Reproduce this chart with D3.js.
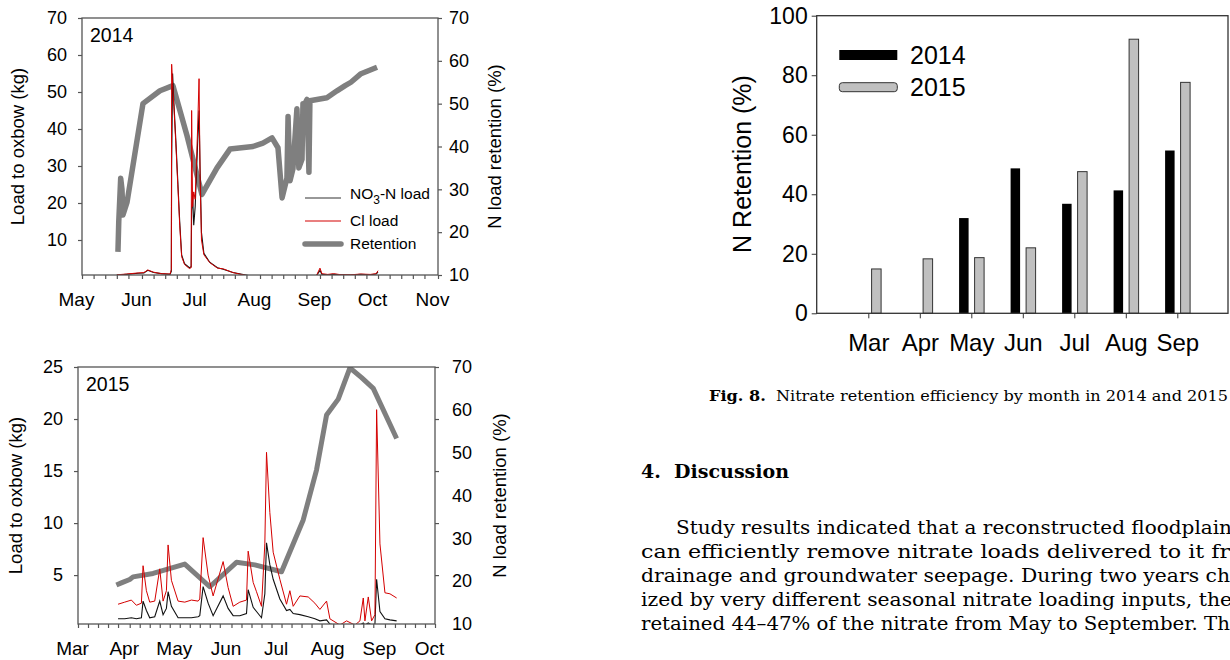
<!DOCTYPE html>
<html>
<head>
<meta charset="utf-8">
<script src="https://cdn.jsdelivr.net/npm/d3@7"></script>
<style>
  body { margin: 0; background: #fff; }
  svg { display: block; font-family: Arial, "Liberation Sans", sans-serif; }
  .body-text { font-family: "DejaVu Serif", "Liberation Serif", serif; }
</style>
</head>
<body>
<svg id="fig" width="1230" height="660"></svg>
<script>
// ---- 2014 daily loads (kg) ----
const loadDates14 = ["2014-05-19","2014-05-24","2014-05-30","2014-06-02","2014-06-04","2014-06-07","2014-06-11",
  "2014-06-15 12:00","2014-06-16 04:00","2014-06-16 08:00","2014-06-16 20:00","2014-06-17 12:00","2014-06-18 12:00",
  "2014-06-19 12:00","2014-06-20 12:00","2014-06-21 12:00","2014-06-23 00:00","2014-06-25 12:00","2014-06-26 10:00",
  "2014-06-26 16:00","2014-06-27 04:00","2014-06-27 18:00","2014-06-28 12:00","2014-06-29 18:00","2014-06-30 12:00",
  "2014-07-01 00:00","2014-07-01 18:00","2014-07-03 00:00","2014-07-06","2014-07-10","2014-07-13","2014-07-18",
  "2014-07-24","2014-07-28","2014-08-30","2014-09-01","2014-09-02","2014-09-05","2014-09-08","2014-09-12",
  "2014-09-17","2014-09-22","2014-09-27","2014-09-30","2014-10-01"]
const no3Load14 = [0.5,0.7,1.0,1.1,1.8,1.2,0.9, 0.7,1.5,30,55,47,37, 26,15,6,3.6,2.5,2.8,
  18,22,14,19,36,45, 30,12,6.4,4.0,2.5,2.1,1.2, 0.6,0.2,0.2,1.8,0.7,0.6,0.7,0.6, 0.5,0.7,0.6,0.8,1.3]
const clLoad14 = [0.6,0.8,1.1,1.2,1.9,1.3,0.9, 0.8,2.0,57.5,52,46,36, 25,14,5.5,3.4,2.3,2.5,
  45,19,23,21,40,53.6, 28,10,6.0,3.9,2.4,2.2,1.2, 0.5,0.2,0.2,2.4,0.9,0.7,0.9,0.6, 0.6,0.8,0.7,0.9,1.7]

// ---- 2014 N load retention (%) ----
const retDates14 = ["2014-05-19 14:00","2014-05-20 00:00","2014-05-21 00:00","2014-05-21 16:00","2014-05-22 04:00",
  "2014-05-24 07:00","2014-06-01 12:00","2014-06-10 07:00","2014-06-17 00:00","2014-06-24 07:00","2014-07-02 00:00",
  "2014-07-09 19:00","2014-07-16 12:00","2014-07-28 09:00","2014-08-02 12:00","2014-08-07 05:00","2014-08-10 07:00",
  "2014-08-12 10:00","2014-08-14 22:00","2014-08-15 12:00","2014-08-16 12:00","2014-08-18 00:00","2014-08-20 02:00",
  "2014-08-21 02:00","2014-08-22 17:00","2014-08-23 05:00","2014-08-24 05:00","2014-08-25 07:00","2014-08-26 07:00",
  "2014-08-26 19:00","2014-09-04 14:00","2014-09-09 19:00","2014-09-14 00:00","2014-09-17 00:00","2014-09-22 05:00",
  "2014-09-30 12:00"]
const retention14 = [15.4,22.5,32.6,30,24, 27,50,53,54.2,42.5,28.8, 35,39.4,40,40.8,42,39.7,
  28,32.6,47,32,34.7,48.8, 35,37,50,50,51,34, 50.7,51.4,53,54.2,55,57, 58.5]

// ---- 2015 daily loads (kg) ----
const loadDates15 = ["2015-03-25","2015-03-29","2015-04-02","2015-04-05","2015-04-08","2015-04-09","2015-04-11",
  "2015-04-13","2015-04-16","2015-04-19","2015-04-21","2015-04-23","2015-04-24","2015-04-26","2015-04-30",
  "2015-05-04","2015-05-08","2015-05-12","2015-05-13","2015-05-15","2015-05-18","2015-05-21","2015-05-27",
  "2015-05-30","2015-06-02","2015-06-06","2015-06-10","2015-06-11","2015-06-14","2015-06-16","2015-06-19",
  "2015-06-21","2015-06-22","2015-06-24","2015-06-26","2015-06-30","2015-07-04","2015-07-06","2015-07-08",
  "2015-07-12","2015-07-17","2015-07-21","2015-07-24","2015-07-28","2015-07-30","2015-08-05","2015-08-09",
  "2015-08-14","2015-08-17","2015-08-19","2015-08-20","2015-08-22","2015-08-24","2015-08-26","2015-08-27",
  "2015-08-29","2015-09-01","2015-09-04","2015-09-08"]
const no3Load15 = [0.8,0.8,0.9,0.8,0.9,2.5,1.6, 0.9,1.0,2.5,1.2,1.8,3.4,2.0,0.9,
  0.9,0.9,1.0,1.1,3.9,2.3,1.1,3.0, 1.8,1.1,1.1,1.3,3.6,1.9,1.5,0.9,
  3.2,8.1,6.0,4.6,2.7,1.6,1.7,1.3, 1.2,1.0,0.8,0.6,0.7,0.3,0.1,0.2,
  0.1,0.2,0.4,0.2,0.4,0.2,0.3,4.6, 1.5,0.8,0.7,0.6]
const clLoad15 = [2.2,2.4,2.6,2.1,2.3,5.9,3.5, 2.4,2.5,5.6,2.5,3.5,7.9,4.5,2.5,
  2.4,2.6,2.5,2.7,8.6,5.0,3.0,6.3, 3.8,2.0,2.4,2.6,7.3,4.3,3.4,2.0,
  8.0,16.8,11,7.2,4.6,2.2,3.5,2.0, 3.0,2.9,2.3,1.7,2.5,0.8,0.2,0.6,
  0.2,0.6,2.8,0.6,2.9,0.6,1.2,20.9, 8,3.3,3.2,2.8]

// ---- 2015 N load retention (%) ----
const retDates15 = ["2015-03-24","2015-03-27","2015-04-01","2015-04-03","2015-04-15","2015-05-04","2015-05-19",
  "2015-06-04","2015-06-15","2015-07-01","2015-07-14","2015-07-22","2015-07-28","2015-08-04","2015-08-11",
  "2015-08-18","2015-08-25","2015-09-08"]
const retention15 = [19.1,19.6,20.4,21.0,21.8,24.0,18.7, 24.4,23.8,22.2,34.3,46.0,58.8,62.5,69.8, 67.5,65.0,53.3]

// ---- Fig. 8: monthly retention efficiency (%) ----
const months = ["Mar","Apr","May","Jun","Jul","Aug","Sep"]
const eff2014 = [null,null,32,48.7,36.8,41.3,54.7]
const eff2015 = [14.9,18.3,18.7,22,47.6,92.1,77.6]

const parseDay = d3.timeParse("%Y-%m-%d")
const parseHour = d3.timeParse("%Y-%m-%d %H:%M")
function toDate(s){ return s.length > 10 ? parseHour(s) : parseDay(s) }

const svg = d3.select("#fig")
svg.append("rect").attr("width", 1230).attr("height", 660).attr("fill", "#fff")

const axisGray = "#555"

function drawLoadPanel(p){
    const g = svg.append("g")
    const x = d3.scaleTime().domain(p.xDomain.map(toDate)).range([p.left, p.right])
    const yL = d3.scaleLinear().domain(p.leftDomain).range([p.bottom, p.top])
    const yR = d3.scaleLinear().domain([10, 70]).range([p.bottom, p.top])

    const clipId = "clip" + p.year
    svg.append("clipPath").attr("id", clipId).append("rect")
        .attr("x", p.left).attr("y", p.top)
        .attr("width", p.right - p.left).attr("height", p.bottom - p.top)

    const plot = g.append("g").attr("clip-path", `url(#${clipId})`)

    const ret = p.retDates.map((d, i) => ({date: toDate(d), v: p.retention[i]}))
    plot.append("path").datum(ret)
        .attr("d", d3.line().x(d => x(d.date)).y(d => yR(d.v)))
        .attr("fill", "none").attr("stroke", "#7f7f7f")
        .attr("stroke-width", p.retWidth).attr("stroke-linejoin", "round")

    const loadLine = d3.line().x(d => x(d.date)).y(d => yL(d.v))
    const no3 = p.loadDates.map((d, i) => ({date: toDate(d), v: p.no3[i]}))
    const cl = p.loadDates.map((d, i) => ({date: toDate(d), v: p.cl[i]}))
    plot.append("path").datum(no3).attr("d", loadLine)
        .attr("fill", "none").attr("stroke", "#111").attr("stroke-width", 1.1)
    plot.append("path").datum(cl).attr("d", loadLine)
        .attr("fill", "none").attr("stroke", "#d40000").attr("stroke-width", 1)

    // frame
    g.append("rect").attr("x", p.left).attr("y", p.top)
        .attr("width", p.right - p.left).attr("height", p.bottom - p.top)
        .attr("fill", "none").attr("stroke", axisGray).attr("stroke-width", 1.3)

    // x axis: months + minor ticks
    const xa = g.append("g").attr("transform", `translate(0,${p.bottom})`)
        .call(d3.axisBottom(x).ticks(d3.timeMonth.every(1)).tickFormat(d3.timeFormat("%b"))
            .tickSize(4).tickSizeOuter(0).tickPadding(14))
    const [x0, x1] = x.domain()
    const minor = d3.timeDay.range(x0, x1).filter(d => [7, 13, 19, 25].includes(d.getDate()))
    g.append("g").attr("transform", `translate(0,${p.bottom})`)
        .call(d3.axisBottom(x).tickValues(minor).tickFormat("").tickSize(4).tickSizeOuter(0))
    xa.selectAll("text").attr("x", -6).style("font-size", "19px")

    // left axis
    const ya = g.append("g").attr("transform", `translate(${p.left},0)`)
        .call(d3.axisLeft(yL).tickValues(p.leftTicks).tickSize(4).tickSizeOuter(0).tickPadding(11))
    ya.selectAll("text").style("font-size", "18px")

    // right axis
    let rt
    if (p.rightTicksFromLeft){
        g.append("g").attr("transform", `translate(${p.right},0)`)
            .call(d3.axisRight(yL).tickValues(p.leftTicks).tickFormat("").tickSize(4).tickSizeOuter(0))
        rt = g.append("g").attr("transform", `translate(${p.right},0)`)
            .call(d3.axisRight(yR).tickValues([10, 20, 30, 40, 50, 60, 70]).tickSize(0).tickPadding(p.rightPad))
        rt.selectAll(".tick line").remove()
    } else {
        rt = g.append("g").attr("transform", `translate(${p.right},0)`)
            .call(d3.axisRight(yR).tickValues([10, 20, 30, 40, 50, 60, 70]).tickSize(4).tickSizeOuter(0).tickPadding(p.rightPad - 4))
    }
    rt.selectAll("text").style("font-size", "18px")

    g.selectAll(".domain").remove()
    g.selectAll(".tick line").attr("stroke", axisGray).attr("stroke-width", 1.2)
    g.selectAll(".tick text").attr("fill", "#000").attr("font-family", "Arial, 'Liberation Sans', sans-serif")

    // year tag
    g.append("text").attr("x", p.left + 8).attr("y", p.top + 24)
        .style("font-size", "19.5px").text(p.year)

    // axis titles
    const midY = (p.top + p.bottom) / 2
    g.append("text").attr("transform", `translate(${p.leftTitleX},${midY}) rotate(-90)`)
        .attr("text-anchor", "middle").attr("dy", "0.35em").style("font-size", "18.5px")
        .text("Load to oxbow (kg)")
    g.append("text").attr("transform", `translate(${p.rightTitleX},${midY}) rotate(-90)`)
        .attr("text-anchor", "middle").attr("dy", "0.35em").style("font-size", "18.5px")
        .text("N load retention (%)")

    if (p.legend){
        const items = [
            {label: "NO3", stroke: "#333", w: 1.2, y: 198},
            {label: "Cl load", stroke: "#d40000", w: 1.2, y: 221},
            {label: "Retention", stroke: "#7f7f7f", w: 5.5, y: 244}
        ]
        items.forEach(it => {
            g.append("line").attr("x1", 305).attr("x2", 341).attr("y1", it.y).attr("y2", it.y)
                .attr("stroke", it.stroke).attr("stroke-width", it.w).attr("stroke-linecap", it.w > 2 ? "round" : "butt")
            const t = g.append("text").attr("x", 350).attr("y", it.y).attr("dy", "0.35em").style("font-size", "15.5px")
            if (it.label === "NO3"){
                t.attr("y", it.y - 4)
                t.append("tspan").text("NO")
                t.append("tspan").attr("dy", 5).style("font-size", "12px").text("3")
                t.append("tspan").attr("dy", -5).text("-N load")
            } else {
                t.text(it.label)
            }
        })
    }
}

drawLoadPanel({
    year: "2014", left: 82, right: 438, top: 18, bottom: 275,
    xDomain: ["2014-05-01", "2014-11-01"],
    leftDomain: [0.54, 70], leftTicks: [10, 20, 30, 40, 50, 60, 70],
    rightTicksFromLeft: false, rightPad: 11,
    loadDates: loadDates14, no3: no3Load14, cl: clLoad14,
    retDates: retDates14, retention: retention14, retWidth: 5.5,
    leftTitleX: 18, rightTitleX: 495, legend: true
})

drawLoadPanel({
    year: "2015", left: 78, right: 435, top: 367, bottom: 624,
    xDomain: ["2015-03-01", "2015-10-01"],
    leftDomain: [0.3, 25], leftTicks: [5, 10, 15, 20, 25],
    rightTicksFromLeft: true, rightPad: 17,
    loadDates: loadDates15, no3: no3Load15, cl: clLoad15,
    retDates: retDates15, retention: retention15, retWidth: 5,
    leftTitleX: 16, rightTitleX: 500, legend: false
})

// ---- bar chart ----
const bar = {left: 816.7, right: 1228, top: 15.7, bottom: 313.3}
const bg = svg.append("g")
const xb = d3.scalePoint().domain(months).range([868.3, 1177.3])
const yb = d3.scaleLinear().domain([0, 100]).range([bar.bottom, bar.top])
const barW = 9.5

bg.selectAll("rect.b14").data(months.map((m, i) => ({m, v: eff2014[i]})).filter(d => d.v !== null))
    .join("rect").attr("class", "b14")
    .attr("x", d => xb(d.m) - 2.7 - barW).attr("width", barW)
    .attr("y", d => yb(d.v)).attr("height", d => yb(0) - yb(d.v))
    .attr("fill", "#000")
bg.selectAll("rect.b15").data(months.map((m, i) => ({m, v: eff2015[i]})))
    .join("rect").attr("class", "b15")
    .attr("x", d => xb(d.m) + 3.3).attr("width", barW)
    .attr("y", d => yb(d.v)).attr("height", d => yb(0) - yb(d.v))
    .attr("fill", "#c0c0c0").attr("stroke", "#333").attr("stroke-width", 1)

bg.append("rect").attr("x", bar.left).attr("y", bar.top)
    .attr("width", bar.right - bar.left).attr("height", bar.bottom - bar.top)
    .attr("fill", "none").attr("stroke", "#333").attr("stroke-width", 1.3)

const bxa = bg.append("g").attr("transform", `translate(0,${bar.bottom})`)
    .call(d3.axisBottom(xb).tickSize(5).tickSizeOuter(0).tickPadding(16))
bxa.selectAll("text").style("font-size", "24px")
const bya = bg.append("g").attr("transform", `translate(${bar.left},0)`)
    .call(d3.axisLeft(yb).tickValues([0, 20, 40, 60, 80, 100]).tickSize(5).tickSizeOuter(0).tickPadding(4))
bya.selectAll("text").style("font-size", "23px")
bg.selectAll(".domain").remove()
bg.selectAll(".tick line").attr("stroke", "#333")
bg.selectAll(".tick text").attr("fill", "#000").attr("font-family", "Arial, 'Liberation Sans', sans-serif")

bg.append("text").attr("transform", `translate(742,164) rotate(-90)`)
    .attr("text-anchor", "middle").attr("dy", "0.35em").style("font-size", "25px")
    .text("N Retention (%)")

bg.append("rect").attr("x", 839.3).attr("y", 50).attr("width", 58).attr("height", 10).attr("fill", "#000")
bg.append("rect").attr("x", 839.3).attr("y", 82.7).attr("width", 58).attr("height", 9).attr("rx", 3)
    .attr("fill", "#c0c0c0").attr("stroke", "#333")
bg.append("text").attr("x", 910).attr("y", 55).attr("dy", "0.35em").style("font-size", "25px").text("2014")
bg.append("text").attr("x", 910).attr("y", 87).attr("dy", "0.35em").style("font-size", "25px").text("2015")

// ---- caption and discussion text ----
const tg = svg.append("g").attr("class", "body-text")
const cap = tg.append("text").attr("x", 709).attr("y", 401).style("font-size", "15.5px")
    .attr("textLength", 519).attr("lengthAdjust", "spacingAndGlyphs")
cap.append("tspan").attr("font-weight", "bold").text("Fig. 8.")
cap.append("tspan").text("\u00a0\u00a0Nitrate retention efficiency by month in 2014 and 2015")

tg.append("text").attr("x", 641).attr("y", 478).style("font-size", "19px").attr("font-weight", "bold")
    .attr("textLength", 148).attr("lengthAdjust", "spacingAndGlyphs")
    .text("4.\u00a0\u00a0Discussion")

const lines = [
    {x: 676, len: 556, t: "Study results indicated that a reconstructed floodplain"},
    {x: 641, len: 589, t: "can efficiently remove nitrate loads delivered to it fr"},
    {x: 641, len: 589, t: "drainage and groundwater seepage. During two years ch"},
    {x: 641, len: 591, t: "ized by very different seasonal nitrate loading inputs, the"},
    {x: 641, len: 589, t: "retained 44\u201347% of the nitrate from May to September. Th"}
]
tg.selectAll("text.line").data(lines).join("text").attr("class", "line")
    .attr("x", d => d.x).attr("y", (d, i) => 534 + i * 24)
    .style("font-size", "18px")
    .attr("textLength", d => d.len).attr("lengthAdjust", "spacingAndGlyphs")
    .text(d => d.t)
</script>
</body>
</html>
